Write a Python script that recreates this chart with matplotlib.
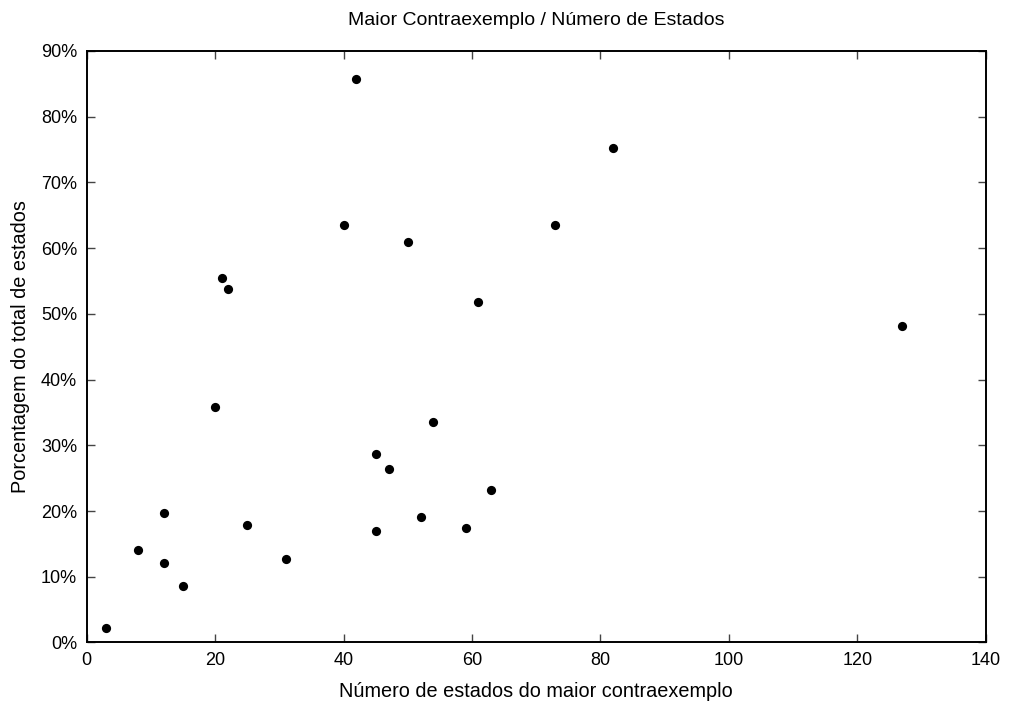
import matplotlib.pyplot as plt
from matplotlib.ticker import FuncFormatter

plt.rcParams["font.family"] = ["Liberation Sans", "DejaVu Sans"]

# tamanho do maior contraexemplo vs. percentual do total de estados
estados = [3, 8, 12, 12, 15, 20, 21, 22, 25, 31, 40, 42, 45, 45, 47,
           50, 52, 54, 59, 61, 63, 73, 82, 127]
percentual = [2.25, 14.1, 19.7, 12.15, 8.65, 35.8, 55.4, 53.8, 17.9, 12.65, 63.5, 85.7, 28.7, 16.95, 26.4,
              61.0, 19.05, 33.55, 17.45, 51.8, 23.2, 63.5, 75.25, 48.2]

fig = plt.figure(figsize=(10.11, 7.06), dpi=100)
ax = fig.add_axes([0.0858, 0.09, 0.975 - 0.0858, 0.9278 - 0.09])

ax.scatter(estados, percentual, s=44, color="black", zorder=3, linewidths=0)

ax.set_xlim(0, 140)
ax.set_ylim(0, 90)
ax.set_xticks(range(0, 141, 20))
ax.set_yticks(range(0, 91, 10))
ax.yaxis.set_major_formatter(FuncFormatter(lambda v, _: f"{v:.0f}%"))

ax.tick_params(direction="in", length=6, width=1, top=True, right=True,
               labelsize=13, pad=7, color="#444444")
for sp in ax.spines.values():
    sp.set_linewidth(1.4)

ax.set_title("Maior Contraexemplo / Número de Estados", fontsize=14, pad=19)
ax.set_xlabel("Número de estados do maior contraexemplo", fontsize=14.3, labelpad=9)
ax.set_ylabel("Porcentagem do total de estados", fontsize=14.3, labelpad=8)

fig.savefig("out.png", dpi=100)
